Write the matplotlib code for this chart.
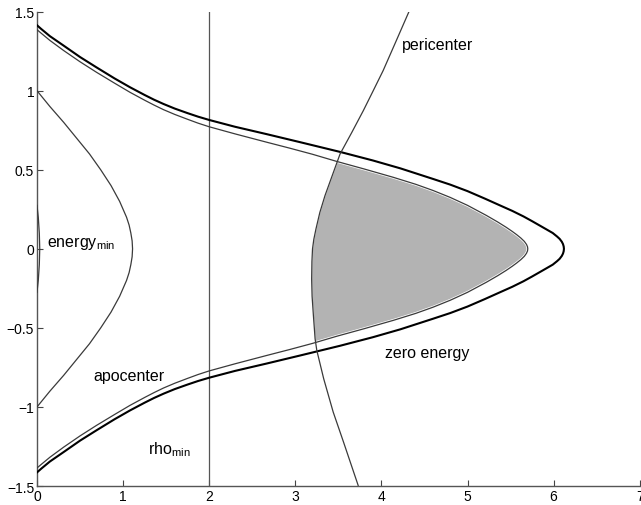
import numpy as np
import matplotlib
matplotlib.use('Agg')
import matplotlib.pyplot as plt

plt.rcParams['font.family'] = ['Liberation Sans', 'DejaVu Sans']
plt.rcParams['mathtext.default'] = 'regular'

# upper branches (lower branches are mirror images)
zero_x = [0, 0.05, 0.15, 0.31, 0.5, 0.69, 0.9, 1.08, 1.25, 1.36, 1.47, 1.6, 1.75, 1.87, 2.0, 2.3,
          2.67, 3.06, 3.52, 3.9, 4.22, 4.6, 4.8, 5.0, 5.2, 5.38, 5.52, 5.65, 5.75, 5.84, 5.92,
          5.99, 6.04, 6.07, 6.095, 6.109, 6.117, 6.12]
zero_y = [1.414, 1.39, 1.345, 1.285, 1.213, 1.148, 1.078, 1.022, 0.973, 0.943, 0.916, 0.887,
          0.858, 0.836, 0.815, 0.772, 0.725, 0.674, 0.613, 0.559, 0.509, 0.442, 0.406, 0.365,
          0.318, 0.274, 0.24, 0.205, 0.175, 0.147, 0.122, 0.10, 0.078, 0.063, 0.045, 0.03,
          0.015, 0]

apo_x = [0, 0.05, 0.15, 0.31, 0.5, 0.69, 0.9, 1.08, 1.25, 1.36, 1.47, 1.6, 1.75, 1.87, 2.0, 2.3,
         2.67, 2.94, 3.2, 3.48, 3.8, 4.14, 4.4, 4.6, 4.8, 5.0, 5.22, 5.35, 5.45, 5.52, 5.57,
         5.62, 5.66, 5.685, 5.697, 5.70]
apo_y = [1.386, 1.363, 1.318, 1.254, 1.183, 1.117, 1.048, 0.99, 0.94, 0.909, 0.88, 0.85, 0.819,
         0.795, 0.772, 0.727, 0.674, 0.636, 0.598, 0.553, 0.505, 0.452, 0.408, 0.369, 0.325,
         0.275, 0.211, 0.17, 0.136, 0.11, 0.09, 0.068, 0.047, 0.028, 0.013, 0]

emin_x = [0, 0.075, 0.15, 0.31, 0.46, 0.61, 0.74, 0.80, 0.86, 0.91, 0.96, 1.0, 1.04, 1.07, 1.09, 1.105, 1.11]
emin_y = [1.0, 0.95, 0.9, 0.8, 0.7, 0.6, 0.5, 0.45, 0.4, 0.35, 0.3, 0.25, 0.2, 0.15, 0.1, 0.05, 0]

small_x = [0, 0.015, 0.027, 0.032]
small_y = [0.275, 0.2, 0.1, 0]

# pericenter, top to bottom
peri_x = [4.32, 4.17, 4.02, 3.905, 3.79, 3.655, 3.52, 3.43, 3.345, 3.285, 3.24, 3.215, 3.20,
          3.193, 3.19, 3.195, 3.21, 3.23, 3.25, 3.33, 3.44, 3.56, 3.73]
peri_y = [1.5, 1.313, 1.127, 1.0, 0.874, 0.735, 0.60, 0.465, 0.337, 0.23, 0.126, 0.06, 0.0,
          -0.08, -0.19, -0.30, -0.42, -0.569, -0.643, -0.822, -1.032, -1.222, -1.496]

rho_min = 2

xticks = [0, 1, 2, 3, 4, 5, 6, 7]
yticks = [-1.5, -1, -0.5, 0, 0.5, 1, 1.5]
ylabels = ['\u22121.5', '\u22121', '\u22120.5', '0', '0.5', '1', '1.5']


def mirror(xs, ys):
    xs = np.asarray(xs, float)
    ys = np.asarray(ys, float)
    # bottom -> top, y increasing
    x = np.concatenate([xs, xs[::-1][1:]])
    y = np.concatenate([-ys, ys[::-1][1:]])
    return x, y


zx, zy = mirror(zero_x, zero_y)
ax_, ay_ = mirror(apo_x, apo_y)
ex, ey = mirror(emin_x, emin_y)
sx, sy = mirror(small_x, small_y)

fig = plt.figure(figsize=(6.41, 5.06), dpi=100)
ax = fig.add_axes([0.0577, 0.0375, 0.9403, 0.9375])

# shaded region between pericenter and apocenter
yy = np.linspace(-0.65, 0.65, 800)
xl = np.interp(yy, peri_y[::-1], peri_x[::-1])
xr = np.interp(yy, ay_, ax_)
ax.fill_betweenx(yy, xl, xr, where=xr >= xl, color='#b3b3b3', lw=0, zorder=1)

line_c = '#3a3a3a'
ax.plot(zx, zy, color='black', lw=1.5, zorder=3)
ax.plot(ax_, ay_, color='white', lw=2.0, zorder=2)
ax.plot(ax_, ay_, color=line_c, lw=0.9, zorder=3)
ax.plot(ex, ey, color=line_c, lw=0.9, zorder=3)
ax.plot(sx, sy, color=line_c, lw=0.9, zorder=3)
ax.plot(peri_x, peri_y, color=line_c, lw=0.9, zorder=3)
ax.axvline(rho_min, color='#555555', lw=0.9, zorder=2)

ax.text(4.24, 1.295, 'pericenter', fontsize=11.5, ha='left', va='center')
ax.text(0.12, 0.021, r'energy$_{min}$', fontsize=11.5, ha='left', va='baseline')
ax.text(0.654, -0.832, 'apocenter', fontsize=11.5, ha='left', va='baseline')
ax.text(1.286, -1.29, r'rho$_{min}$', fontsize=11.5, ha='left', va='baseline')
ax.text(4.04, -0.685, 'zero energy', fontsize=11.5, ha='left', va='baseline')

ax.set_xlim(0, 7)
ax.set_ylim(-1.5, 1.5)
ax.set_xticks(xticks)
ax.set_xticklabels([str(t) for t in xticks])
ax.set_yticks(yticks)
ax.set_yticklabels(ylabels)
ax.tick_params(direction='in', length=4, width=0.8, labelsize=10, color='#444444', pad=2)
ax.spines['top'].set_visible(False)
ax.spines['right'].set_visible(False)
for s in ['left', 'bottom']:
    ax.spines[s].set_color('#555555')
    ax.spines[s].set_linewidth(1.0)

fig.savefig('out.png', dpi=100)
